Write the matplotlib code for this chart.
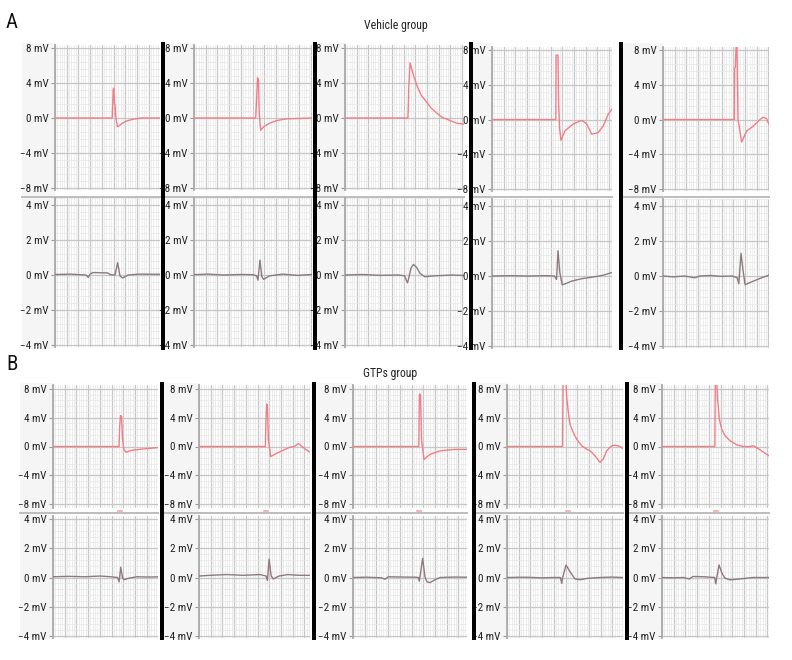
import numpy as np
import matplotlib
matplotlib.use('Agg')
import matplotlib.pyplot as plt
from matplotlib.patches import Rectangle
from matplotlib.lines import Line2D
from matplotlib import font_manager as fm

# ---------------- data (time in % of panel width, values in mV) ----------------
VEH1_TOP_T = [0, 54.5, 55.0, 55.4, 56.0, 56.6, 57.2, 57.8, 59.5, 61, 64, 68, 74, 82, 100]
VEH1_TOP_V = [0, 0, 1.6, 3.3, 3.4, 1.6, 1.5, 0.2, -1.0, -0.9, -0.6, -0.35, -0.15, 0, 0]
VEH2_TOP_T = [0, 52.3, 53.0, 53.8, 54.6, 55.3, 56.5, 59, 64, 70, 78, 100]
VEH2_TOP_V = [0, 0, 2.0, 4.6, 4.4, 0.5, -1.4, -1.0, -0.6, -0.3, -0.1, 0]
VEH3_TOP_T = [0, 52.9, 53.6, 54.7, 57.3, 60.7, 64.1, 72.6, 81.2, 94.0, 100]
VEH3_TOP_V = [0, 0, 3.5, 6.3, 5.0, 3.6, 2.6, 1.1, 0.1, -0.6, -0.7]
VEH4_TOP_T = [0, 53.2, 53.4, 55.0, 55.4, 56.3, 57.5, 60.8, 67.8, 74.7, 78.9, 83.1, 88.6, 92.8, 97, 100]
VEH4_TOP_V = [0, 0, 7.4, 7.4, 2.5, -1.0, -2.4, -1.3, -0.5, -0.1, -0.5, -1.7, -1.5, -0.7, 0.65, 1.2]
VEH5_TOP_T = [0, 67.3, 67.6, 68.2, 68.9, 69.8, 70.8, 74.2, 78.9, 85.2, 91.5, 94.7, 97.8, 100]
VEH5_TOP_V = [0, 0, 5.9, 6.0, 8.3, 8.3, 0, -2.6, -1.33, -0.76, 0.0, 0.27, 0.08, -0.57]

VEH1_BOT_T = [0, 15, 29.5, 31.7, 33.5, 36, 50, 53, 57.1, 59.7, 61.9, 64.4, 69.8, 80, 100]
VEH1_BOT_V = [0.03, 0.05, 0.0, -0.14, 0.05, 0.14, 0.12, 0.02, 0.0, 0.7, -0.05, -0.17, 0.0, 0.05, 0.04]
VEH2_BOT_T = [0, 12, 25, 40, 50, 53.0, 54.2, 55.9, 57.5, 59, 64, 75, 88, 100]
VEH2_BOT_V = [0.02, 0.05, 0.0, 0.03, 0.02, -0.05, -0.3, 0.85, -0.1, -0.25, -0.05, 0.05, -0.02, 0.03]
VEH3_BOT_T = [0, 15, 30, 45, 50, 52.5, 53.5, 55.5, 57.5, 60, 63, 67, 75, 90, 100]
VEH3_BOT_V = [0.0, 0.03, -0.02, 0.0, -0.05, -0.45, -0.2, 0.4, 0.6, 0.45, 0.1, -0.1, -0.05, 0.0, -0.03]
VEH4_BOT_T = [0, 15, 30, 45, 52, 53.8, 55.0, 56.5, 58.5, 61, 66, 75, 85, 93, 100]
VEH4_BOT_V = [0.0, 0.02, 0.0, 0.02, 0.0, -0.2, 1.45, 0.2, -0.5, -0.45, -0.3, -0.15, -0.05, 0.05, 0.2]
VEH5_BOT_T = [0, 10, 20, 30, 35, 45, 55, 65, 70.0, 71.5, 73.6, 75.5, 77.5, 81, 87, 93, 100]
VEH5_BOT_V = [0.0, -0.05, 0.0, -0.1, 0.0, 0.03, -0.02, 0.0, -0.1, -0.45, 1.3, 0.3, -0.5, -0.4, -0.25, -0.1, 0.05]

GTP1_TOP_T = [0, 62.9, 63.5, 64.3, 65.3, 66.3, 67.5, 69.5, 73, 76.5, 89, 100]
GTP1_TOP_V = [0, 0, 2.8, 4.3, 4.2, 1.0, -0.4, -0.8, -0.6, -0.5, -0.3, -0.15]
GTP2_TOP_T = [0, 59.8, 60.3, 61.0, 61.6, 62.5, 64.6, 70, 76, 82, 86, 89.5, 95.5, 100]
GTP2_TOP_V = [0, 0, 3.5, 5.9, 5.8, 1.0, -1.4, -0.95, -0.5, -0.1, 0.0, 0.42, -0.33, -0.8]
GTP3_TOP_T = [0, 57.7, 58.2, 59.2, 60.1, 62.3, 67.5, 76.3, 89.5, 100]
GTP3_TOP_V = [0, 0, 7.3, 7.2, 1.0, -1.8, -1.1, -0.6, -0.4, -0.4]
GTP4_TOP_T = [0, 47.9, 48.3, 50.9, 51.4, 52.9, 54.3, 57.2, 60.1, 64.4, 68.7, 71.6, 75.9, 80.2, 83.0, 85.9, 90.2, 93.1, 97.4, 100]
GTP4_TOP_V = [0, 0, 8.8, 8.8, 7.0, 4.7, 3.1, 1.9, 1.0, 0.1, -0.37, -0.6, -1.3, -2.2, -1.75, -0.6, 0.1, 0.18, 0.0, -0.28]
GTP5_TOP_T = [0, 49.4, 49.8, 51.2, 52.0, 53.6, 55.8, 58.9, 63.6, 69.8, 76.0, 82.2, 85.4, 90.0, 100]
GTP5_TOP_V = [0, 0, 8.8, 8.8, 6.5, 3.8, 2.4, 1.5, 0.8, 0.23, 0.0, 0.0, 0.1, -0.3, -1.3]

GTP1_BOT_T = [0, 15, 30, 45, 55, 61.5, 63.0, 64.5, 66.3, 68, 72, 80, 90, 100]
GTP1_BOT_V = [0.05, 0.08, 0.05, 0.1, 0.05, 0.0, -0.3, 0.7, -0.05, -0.15, -0.05, 0.05, 0.03, 0.05]
GTP2_BOT_T = [0, 10, 25, 40, 55, 60.5, 61.6, 63.2, 65, 67, 72, 80, 90, 100]
GTP2_BOT_V = [0.1, 0.15, 0.2, 0.15, 0.2, 0.1, -0.2, 1.25, 0.1, -0.1, 0.1, 0.2, 0.15, 0.15]
GTP3_BOT_T = [0, 12, 25, 28, 31, 45, 55, 57.5, 58.2, 61.1, 63.2, 65, 67.5, 72, 76.3, 88, 100]
GTP3_BOT_V = [0.0, 0.02, -0.02, -0.12, 0.05, 0.03, 0.02, 0.0, -0.25, 1.3, 0.0, -0.3, -0.35, -0.15, 0.0, 0.03, 0.02]
GTP4_BOT_T = [0, 15, 30, 40, 46.0, 47.2, 48.0, 50.9, 54.3, 58.6, 63, 70, 80, 90, 100]
GTP4_BOT_V = [0.0, 0.02, -0.02, 0.0, 0.0, -0.4, 0.0, 0.85, 0.4, -0.1, -0.15, -0.05, 0.0, 0.03, 0.0]
GTP5_BOT_T = [0, 10, 20, 25.5, 29, 40, 45, 49.3, 50.2, 53.3, 56, 58.9, 63.6, 72.9, 85, 100]
GTP5_BOT_V = [0.0, -0.02, 0.0, -0.1, 0.07, 0.05, 0.02, 0.0, -0.44, 0.86, 0.3, -0.05, -0.16, -0.1, 0.0, 0.0]

# small event markers under the GTPs upper traces (position in % of panel width)
GTP_MARKS = [64.0, 60.5, 58.0, 53.0, 50.5]

TOP_TICKS = [8, 4, 0, -4, -8]
BOT_TICKS = [4, 2, 0, -2, -4]

TITLE_A = "Vehicle group"
TITLE_B = "GTPs group"

# ---------------- font choice (condensed if available) ----------------
_names = {f.name for f in fm.fontManager.ttflist}
_cond = {(f.name) for f in fm.fontManager.ttflist if str(f.stretch) in ('condensed', 'semi-condensed', '75', '87')}
if 'Liberation Sans Narrow' in _names:
    FP = dict(family=['Liberation Sans Narrow', 'DejaVu Sans'])
elif 'Roboto Condensed' in _names:
    FP = dict(family=['Roboto Condensed', 'DejaVu Sans'])
elif 'DejaVu Sans' in _cond:
    FP = dict(family=['DejaVu Sans'], stretch='condensed')
else:
    FP = dict(family=['Roboto', 'DejaVu Sans'])

# ---------------- layout ----------------
W, H = 792, 660
fig = plt.figure(figsize=(7.92, 6.6), dpi=100)
fig.patch.set_facecolor('white')
TOP_COLOR = '#ef7f87'
BOT_COLOR = '#8e7a7c'


def fx(x):
    return x / W


def fy(y):
    return 1 - y / H


def rect(x0, y0, x1, y1, color, z=-1):
    fig.patches.append(Rectangle((fx(x0), fy(y1)), fx(x1) - fx(x0), fy(y0) - fy(y1),
                                 transform=fig.transFigure, facecolor=color,
                                 edgecolor='none', zorder=z))


def hline(x0, x1, y, color, lw):
    ln = Line2D([fx(x0), fx(x1)], [fy(y), fy(y)], transform=fig.transFigure,
                color=color, lw=lw, zorder=-0.5)
    fig.add_artist(ln)


def fmt(v):
    return (f"\u2212{abs(v)} mV" if v < 0 else f"{v} mV")


def panel(xa, xe, ytop, ybot, tick_top, tick_bot, ticks, t, v, color):
    tmax = ticks[0]
    scale = (tick_bot - tick_top) / (2 * tmax)
    mid = (tick_top + tick_bot) / 2
    y_hi = (mid - ytop) / scale
    y_lo = -(ybot - mid) / scale
    ax = fig.add_axes([fx(xa), fy(ybot), fx(xe) - fx(xa), fy(ytop) - fy(ybot)])
    ax.set_facecolor('white')
    ax.set_xlim(0, 100)
    step = 11.7 / (xe - xa) * 100
    ax.set_xticks(np.arange(0, 100.01, step))
    ax.set_xticks(np.arange(0, 100.01, step / 5), minor=True)
    ymaj = tmax / 2
    ax.set_yticks(ticks)
    ax.set_yticklabels([fmt(k) for k in ticks], fontsize=8, color='#222222', **FP)
    ax.set_yticks(np.arange(-tmax - ymaj, tmax + ymaj + 0.01, ymaj / 5), minor=True)
    ax.set_ylim(y_lo, y_hi)
    ax.grid(which='major', color='#c6c6c6', lw=0.9)
    ax.grid(which='minor', color='#e6e6e6', lw=0.5)
    ax.set_axisbelow(True)
    ax.tick_params(axis='x', which='both', length=0, labelbottom=False)
    ax.tick_params(axis='y', which='minor', length=0)
    ax.tick_params(axis='y', which='major', length=3, width=0.8, color='#999999', pad=1.5)
    for s in ['top', 'right', 'bottom']:
        ax.spines[s].set_visible(False)
    ax.spines['left'].set_color('#aaaaaa')
    ax.spines['left'].set_linewidth(1.3)
    ax.plot(t, v, color=color, lw=1.0, solid_joinstyle='round', zorder=3)
    return ax


ROW_A_COLS = [(55, 160), (194, 312), (345, 464), (492, 612), (663, 769)]
ROW_B_COLS = [(53, 158), (199, 310), (353, 467), (507, 623), (662, 769)]
BARS_A = [163, 315, 471, 621]
BARS_B = [161.5, 313.5, 474, 627]

VEH_TOP = [(VEH1_TOP_T, VEH1_TOP_V), (VEH2_TOP_T, VEH2_TOP_V), (VEH3_TOP_T, VEH3_TOP_V),
           (VEH4_TOP_T, VEH4_TOP_V), (VEH5_TOP_T, VEH5_TOP_V)]
VEH_BOT = [(VEH1_BOT_T, VEH1_BOT_V), (VEH2_BOT_T, VEH2_BOT_V), (VEH3_BOT_T, VEH3_BOT_V),
           (VEH4_BOT_T, VEH4_BOT_V), (VEH5_BOT_T, VEH5_BOT_V)]
GTP_TOP = [(GTP1_TOP_T, GTP1_TOP_V), (GTP2_TOP_T, GTP2_TOP_V), (GTP3_TOP_T, GTP3_TOP_V),
           (GTP4_TOP_T, GTP4_TOP_V), (GTP5_TOP_T, GTP5_TOP_V)]
GTP_BOT = [(GTP1_BOT_T, GTP1_BOT_V), (GTP2_BOT_T, GTP2_BOT_V), (GTP3_BOT_T, GTP3_BOT_V),
           (GTP4_BOT_T, GTP4_BOT_V), (GTP5_BOT_T, GTP5_BOT_V)]

# label area backgrounds and separators
lefts_A = [22] + [b + 2 for b in BARS_A]
lefts_B = [20] + [b + 2 for b in BARS_B]
for i, (xa, xe) in enumerate(ROW_A_COLS):
    rect(lefts_A[i], 43, xa, 349, '#f5f5f5')
    hline(lefts_A[i], xe, 196.8, '#bdbdbd', 1.4)
for i, (xa, xe) in enumerate(ROW_B_COLS):
    rect(lefts_B[i], 383, xa, 639, '#f5f5f5')
    hline(lefts_B[i], xe, 513.2, '#bdbdbd', 1.4)

# Row A
for i, (xa, xe) in enumerate(ROW_A_COLS):
    off = 0 if i < 3 else 2
    panel(xa, xe, 45 + off, 190 + off * 0.5, 48 + off, 188 + off * 0.5, TOP_TICKS,
          VEH_TOP[i][0], VEH_TOP[i][1], TOP_COLOR)
    panel(xa, xe, 198 + off * 0.5, 347 + off * 0.5, 205 + off * 0.5, 345 + off * 0.5, BOT_TICKS,
          VEH_BOT[i][0], VEH_BOT[i][1], BOT_COLOR)
# Row B
for i, (xa, xe) in enumerate(ROW_B_COLS):
    panel(xa, xe, 385, 508, 389, 504, TOP_TICKS, GTP_TOP[i][0], GTP_TOP[i][1], TOP_COLOR)
    panel(xa, xe, 516, 638, 519, 636, BOT_TICKS, GTP_BOT[i][0], GTP_BOT[i][1], BOT_COLOR)
    mx = xa + GTP_MARKS[i] / 100 * (xe - xa)
    fig.add_artist(Line2D([fx(mx - 2), fx(mx + 2)], [fy(510.5), fy(510.5)],
                          transform=fig.transFigure, color='#f4a5aa', lw=1.2))

# black separator bars
for b in BARS_A:
    rect(b - 2, 42, b + 2, 350, 'black', z=5)
for b in BARS_B:
    rect(b - 2, 382, b + 2, 640, 'black', z=5)

fig.text(fx(396), fy(25), TITLE_A, ha='center', va='center', fontsize=8.5, color='#222222', **FP)
fig.text(fx(390), fy(373), TITLE_B, ha='center', va='center', fontsize=8.5, color='#222222', **FP)
fig.text(fx(12), fy(22), 'A', ha='center', va='center', fontsize=15, color='#111111', **FP)
fig.text(fx(12), fy(364), 'B', ha='center', va='center', fontsize=15, color='#111111', **FP)

fig.savefig('out.png', dpi=100, facecolor='white')
